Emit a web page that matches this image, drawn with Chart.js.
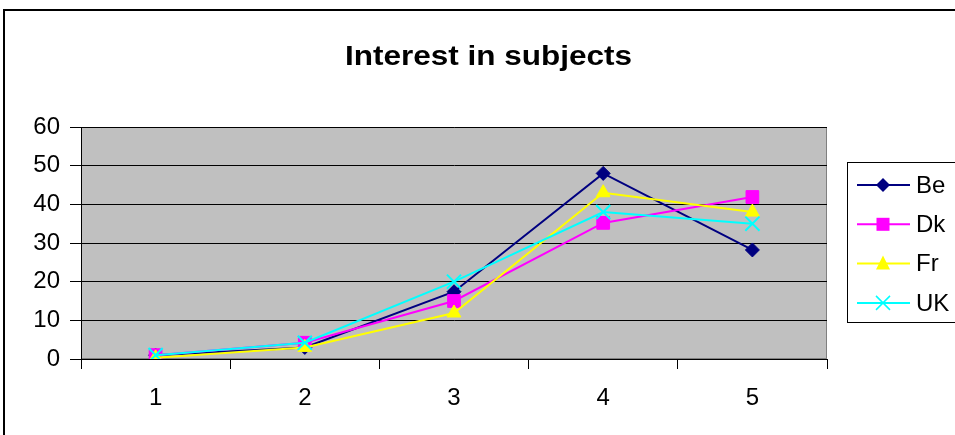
<!DOCTYPE html>
<html>
<head>
<meta charset="utf-8">
<script src="https://cdn.jsdelivr.net/npm/chart.js@4"></script>
<style>
  body { margin: 0; background: #fff; }
  canvas { display: block; }
</style>
</head>
<body>
<canvas id="subjectsChart" width="955" height="435"></canvas>
<script>
const labels = ['1', '2', '3', '4', '5'];

const beValues = [1, 3, 17.4, 48, 28.2];
const dkValues = [1, 4.2, 15, 35.2, 41.9];
const frValues = [0.3, 3, 11.9, 43, 38];
const ukValues = [1, 4.2, 20, 38, 35];

const seriesNames = ['Be', 'Dk', 'Fr', 'UK'];
const seriesColors = ['#000080', '#FF00FF', '#FFFF00', '#00FFFF'];
const chartTitle = 'Interest in subjects';

const FONT = "Arial, 'Liberation Sans', sans-serif";

// gray plot area + outer frame + title, Excel look
const frame = {
    id: 'frame',
    beforeDraw(chart) {
        const c = chart.ctx;
        const a = chart.chartArea;
        c.save();
        c.fillStyle = '#C0C0C0';
        c.fillRect(a.left, a.top, a.right - a.left, a.bottom - a.top);
        c.strokeStyle = '#808080';
        c.lineWidth = 1;
        c.strokeRect(a.left + 0.5, a.top + 0.5, a.right - a.left - 1, a.bottom - a.top - 1);
        c.strokeStyle = '#000';
        c.lineWidth = 2;
        c.strokeRect(4, 10, 1200, 1200);

        // title, stretched a bit wider like the original
        c.font = 'bold 28px ' + FONT;
        c.fillStyle = '#000';
        c.textBaseline = 'alphabetic';
        const w = c.measureText(chartTitle).width;
        const sx = 287 / w;
        c.translate(345, 65);
        c.scale(sx, 1);
        c.fillText(chartTitle, 0, 0);
        c.restore();
    }
};

function marker(c, style, x, y, color) {
    c.fillStyle = color;
    c.strokeStyle = color;
    c.beginPath();
    if (style === 'rectRot') {
        c.moveTo(x, y - 7); c.lineTo(x + 7, y); c.lineTo(x, y + 7); c.lineTo(x - 7, y);
        c.closePath(); c.fill();
    } else if (style === 'rect') {
        c.fillRect(x - 6.5, y - 6.5, 13, 13);
    } else if (style === 'triangle') {
        c.moveTo(x, y - 8); c.lineTo(x + 7, y + 6); c.lineTo(x - 7, y + 6);
        c.closePath(); c.fill();
    } else {
        c.lineWidth = 1.5;
        c.moveTo(x - 7, y - 7); c.lineTo(x + 7, y + 7);
        c.moveTo(x + 7, y - 7); c.lineTo(x - 7, y + 7);
        c.stroke();
    }
}

// legend drawn by hand: line with marker through it
const excelLegend = {
    id: 'excelLegend',
    afterDraw(chart) {
        const c = chart.ctx;
        c.save();
        c.strokeStyle = '#000';
        c.lineWidth = 1;
        c.strokeRect(847.5, 162.5, 200, 160);
        chart.data.datasets.forEach((ds, i) => {
            const y = 185 + i * 39.3;
            c.strokeStyle = ds.borderColor;
            c.lineWidth = 2;
            c.beginPath();
            c.moveTo(857, y); c.lineTo(910, y);
            c.stroke();
            marker(c, ds.pointStyle, 883, y, ds.borderColor);
            c.fillStyle = '#000';
            c.font = '24px ' + FONT;
            c.textBaseline = 'middle';
            c.fillText(ds.label, 916, y + 1);
        });
        c.restore();
    }
};

const styles = ['rectRot', 'rect', 'triangle', 'crossRot'];
const radii = [7, 9, 8, 10];
const allValues = [beValues, dkValues, frValues, ukValues];

const datasets = seriesNames.map((name, i) => ({
    label: name,
    data: allValues[i],
    borderColor: seriesColors[i],
    backgroundColor: seriesColors[i],
    borderWidth: 2,
    pointStyle: styles[i],
    pointRadius: radii[i],
    pointBorderWidth: i === 3 ? 2 : 1,
    order: seriesNames.length - i, // later series on top, like Excel
    tension: 0
}));

const ctx = document.getElementById('subjectsChart').getContext('2d');

const subjectsChart = new Chart(ctx, {
    type: 'line',
    data: { labels: labels, datasets: datasets },
    options: {
        responsive: false,
        animation: false,
        layout: { padding: { top: 127, right: 128, bottom: 0, left: 0 } },
        plugins: {
            legend: { display: false },
            tooltip: { enabled: false },
            title: { display: false }
        },
        scales: {
            x: {
                offset: true,
                afterFit(scale) { scale.height = 76; },
                grid: {
                    offset: true,
                    drawOnChartArea: false,
                    drawTicks: true,
                    tickLength: 10,
                    tickColor: '#000'
                },
                border: { color: '#000', width: 1 },
                ticks: { color: '#000', font: { family: FONT, size: 24 }, padding: 15 }
            },
            y: {
                min: 0,
                max: 60,
                afterFit(scale) { scale.width = 81; },
                grid: { color: '#000', tickLength: 11, tickColor: '#000', lineWidth: 1 },
                border: { color: '#000', width: 1 },
                ticks: { stepSize: 10, color: '#000', font: { family: FONT, size: 24 }, padding: 10 }
            }
        }
    },
    plugins: [frame, excelLegend]
});
</script>
</body>
</html>
